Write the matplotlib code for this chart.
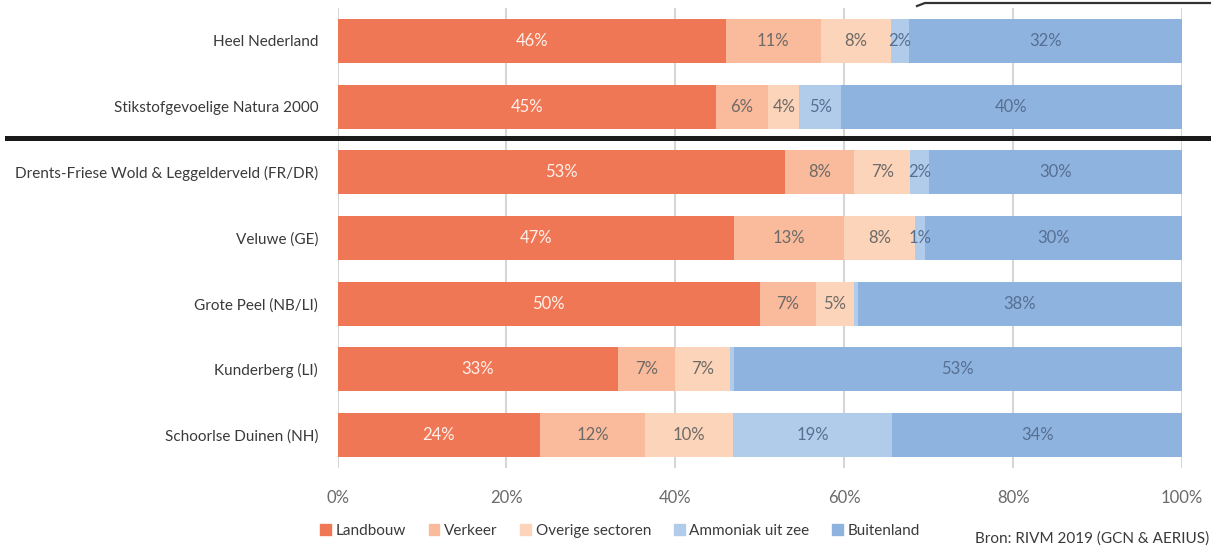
import numpy as np
import matplotlib.pyplot as plt
import matplotlib.transforms as mtransforms
from matplotlib.patches import Patch
from matplotlib.lines import Line2D

plt.rcParams['font.family'] = ['Lato', 'DejaVu Sans']

# ---------------------------------------------------------------------------
# Data: share of nitrogen deposition per source (%)
# ---------------------------------------------------------------------------
areas = [
    "Heel Nederland",
    "Stikstofgevoelige Natura 2000",
    "Drents-Friese Wold & Leggelderveld (FR/DR)",
    "Veluwe (GE)",
    "Grote Peel (NB/LI)",
    "Kunderberg (LI)",
    "Schoorlse Duinen (NH)",
]
sources = ["Landbouw", "Verkeer", "Overige sectoren", "Ammoniak uit zee", "Buitenland"]

landbouw   = [46.0, 44.8, 53.0, 46.9, 50.0, 33.2, 24.0]
verkeer    = [11.2,  6.2,  8.2, 13.1,  6.6,  6.7, 12.4]
overige    = [ 8.3,  3.7,  6.6,  8.4,  4.6,  6.6, 10.4]
ammoniak   = [ 2.2,  4.9,  2.2,  1.2,  0.4,  0.4, 18.9]
buitenland = [32.3, 40.4, 30.0, 30.4, 38.4, 53.1, 34.3]

colors = ["#F07756", "#F9BB9B", "#FCD4B9", "#B0CCEA", "#8FB3DF"]
text_colors = ["#FFF1EA", "#6E6A68", "#6E6A68", "#566F93", "#566F93"]

series = [landbouw, verkeer, overige, ammoniak, buitenland]

# ---------------------------------------------------------------------------
# Figure
# ---------------------------------------------------------------------------
W, H = 1211, 548
fig = plt.figure(figsize=(W / 100, H / 100), dpi=100)
ax = fig.add_axes([337.6 / W, 1 - 468 / H, (1182 - 337.6) / W, (468 - 8) / H])

y = np.arange(len(areas))
left = np.zeros(len(areas))
for vals, col, tcol in zip(series, colors, text_colors):
    vals = np.array(vals)
    ax.barh(y, vals, left=left, height=0.67, color=col, zorder=2)
    for yi, (l, v) in enumerate(zip(left, vals)):
        if round(v) >= 1:
            ax.text(l + v / 2, yi, f"{v:.0f}%", ha="center", va="center",
                    color=tcol, fontsize=12, zorder=3)
    left += vals

ax.set_xlim(0, 100)
ax.set_ylim(len(areas) - 0.5, -0.5)
ax.set_xticks(np.arange(0, 101, 20))
ax.set_xticklabels([f"{t}%" for t in range(0, 101, 20)])
ax.set_yticks(y)
ax.set_yticklabels(areas, fontsize=11)
ax.tick_params(axis="both", length=0, colors="#3A3A3A")
ax.tick_params(axis="x", pad=16, colors="#6A6A6A", labelsize=12)
ax.tick_params(axis="y", pad=14)
ax.grid(axis="x", color="#D6D6D6", lw=1.5, zorder=0)
for s in ax.spines.values():
    s.set_visible(False)

# thick separator between the national figures and the individual areas
trans = mtransforms.blended_transform_factory(fig.transFigure, ax.transData)
fig.add_artist(Line2D([7 / W, 1.0], [1.48, 1.48], transform=trans,
                      color="#1A1A1A", lw=3.6, zorder=5))

# cut-off frame edge at the top right
fig.add_artist(Line2D([917 / W, 925 / W, 1.0], [1 - 6 / H, 1 - 3 / H, 1 - 3 / H],
                      transform=fig.transFigure, color="#333333", lw=1.6))

# legend
handles = [Patch(color=c, label=s) for c, s in zip(colors, sources)]
fig.legend(handles=handles, loc="center", bbox_to_anchor=(620 / W, 1 - 531 / H),
           ncol=5, frameon=False, fontsize=11,
           handlelength=0.7, handleheight=0.7,
           handletextpad=0.3, columnspacing=1.5, labelcolor="#3A3A3A")

fig.text(1209 / W, 1 - 539 / H, "Bron: RIVM 2019 (GCN & AERIUS)", ha="right",
         va="center", fontsize=11, color="#3A3A3A")

fig.savefig("out.png", dpi=100)
